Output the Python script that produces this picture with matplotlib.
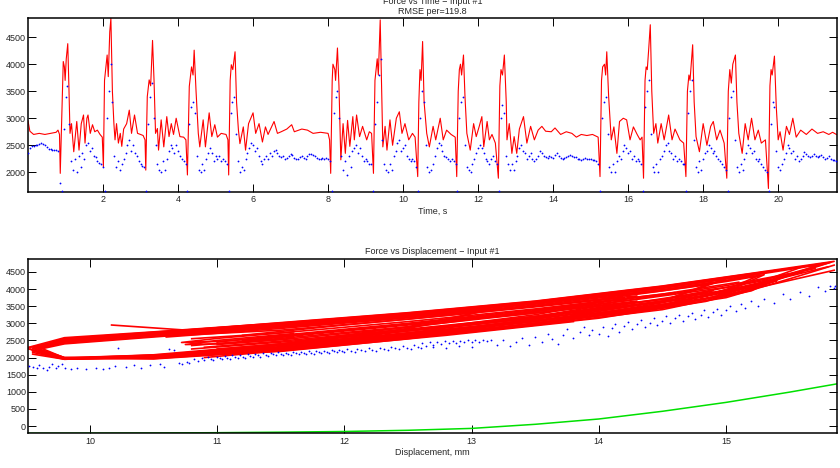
import numpy as np
import matplotlib
matplotlib.use("Agg")
import matplotlib.pyplot as plt

plt.rcParams['font.family'] = ['Liberation Sans', 'DejaVu Sans']

# ---------------- Top panel data: Force vs Time ----------------
# model force (red line), (time s, force N)
model_force_pts = [
    (0.00, 2950), (0.05, 2760), (0.15, 2700), (0.30, 2720), (0.45, 2700), (0.60, 2720),
    (0.75, 2740), (0.80, 2780), (0.84, 2700), (0.86, 1980), (0.91, 3300), (0.94, 4050),
    (0.97, 3950), (0.99, 3700), (1.02, 4100), (1.06, 4380), (1.09, 3600), (1.12, 2720),
    (1.16, 2900), (1.22, 2380), (1.30, 2940), (1.36, 2410), (1.42, 2900), (1.48, 3060),
    (1.52, 2540), (1.57, 3000), (1.60, 3060), (1.66, 2720), (1.72, 2880), (1.78, 2750),
    (1.85, 2780), (1.92, 2700), (1.98, 2650), (2.01, 2100), (2.04, 3700), (2.08, 3960),
    (2.11, 4170), (2.14, 3770), (2.18, 4600), (2.21, 4850), (2.25, 3500), (2.29, 2900),
    (2.32, 2600), (2.36, 2900), (2.41, 2540), (2.46, 2720), (2.50, 2480), (2.55, 2800),
    (2.63, 2900), (2.70, 3150), (2.76, 2720), (2.84, 3060), (2.92, 2720), (3.00, 2700),
    (3.07, 2680), (3.12, 2600), (3.14, 2040), (3.18, 3400), (3.23, 3710), (3.27, 3600),
    (3.32, 4440), (3.36, 3700), (3.40, 2720), (3.45, 2810), (3.48, 2410), (3.55, 2970),
    (3.62, 2470), (3.70, 3030), (3.76, 2660), (3.82, 2900), (3.88, 2700), (3.95, 3000),
    (4.05, 2660), (4.15, 2650), (4.21, 2600), (4.25, 1950), (4.30, 3590), (4.36, 3950),
    (4.40, 3800), (4.43, 4260), (4.48, 3500), (4.54, 2720), (4.58, 2470), (4.67, 2970),
    (4.73, 2470), (4.83, 3100), (4.90, 2660), (4.98, 2880), (5.05, 2650), (5.15, 2720),
    (5.28, 2700), (5.33, 2600), (5.35, 1950), (5.39, 3700), (5.42, 3990), (5.46, 3900),
    (5.52, 4230), (5.56, 3300), (5.61, 2780), (5.65, 2530), (5.74, 2840), (5.80, 2410),
    (5.88, 2900), (6.00, 3100), (6.07, 2720), (6.16, 2900), (6.25, 2560), (6.33, 2840),
    (6.40, 2700), (6.56, 2940), (6.65, 2720), (6.75, 2750), (6.90, 2800), (7.03, 2880),
    (7.10, 2750), (7.30, 2800), (7.45, 2780), (7.60, 2720), (7.80, 2740), (8.00, 2720),
    (8.04, 2600), (8.07, 1980), (8.11, 3700), (8.13, 4000), (8.18, 3900), (8.20, 3700),
    (8.25, 4300), (8.29, 3600), (8.34, 2230), (8.40, 2900), (8.46, 2350), (8.52, 2960),
    (8.58, 2480), (8.66, 3030), (8.70, 2600), (8.76, 3060), (8.84, 2660), (8.92, 2850),
    (9.03, 2600), (9.10, 2750), (9.16, 2720), (9.21, 1980), (9.25, 3700), (9.28, 3900),
    (9.31, 4100), (9.34, 3800), (9.39, 4820), (9.43, 3500), (9.46, 2470), (9.52, 2850),
    (9.57, 2410), (9.65, 2970), (9.72, 2500), (9.82, 3000), (9.90, 3120), (9.97, 2720),
    (10.05, 2900), (10.15, 2600), (10.25, 2720), (10.32, 2650), (10.39, 1920), (10.42, 3300),
    (10.45, 3900), (10.48, 3700), (10.52, 4420), (10.56, 3300), (10.63, 2720), (10.70, 2470),
    (10.80, 2850), (10.87, 2600), (10.99, 3000), (11.07, 2600), (11.16, 2780), (11.28, 2700),
    (11.39, 2650), (11.43, 1920), (11.47, 3500), (11.50, 3900), (11.53, 4000), (11.56, 3800),
    (11.61, 4170), (11.65, 3400), (11.70, 2720), (11.79, 2410), (11.88, 2900), (11.95, 2660),
    (12.03, 2850), (12.10, 3030), (12.15, 2470), (12.24, 2940), (12.30, 2600), (12.37, 2700),
    (12.46, 2540), (12.54, 1890), (12.58, 3600), (12.61, 3900), (12.65, 3800), (12.70, 4170),
    (12.75, 3300), (12.77, 2600), (12.83, 2900), (12.90, 2350), (12.96, 2660), (13.03, 2350),
    (13.10, 2800), (13.21, 3030), (13.30, 2540), (13.40, 2850), (13.50, 2600), (13.60, 2780),
    (13.70, 2850), (13.80, 2760), (13.95, 2750), (14.05, 2820), (14.20, 2700), (14.35, 2750),
    (14.50, 2720), (14.62, 2650), (14.75, 2700), (14.90, 2680), (15.05, 2700), (15.20, 2650),
    (15.25, 1920), (15.29, 3700), (15.32, 3950), (15.37, 4000), (15.40, 3800), (15.43, 4230),
    (15.48, 3400), (15.55, 2600), (15.62, 2840), (15.70, 2350), (15.77, 2940), (15.87, 3000),
    (15.96, 2970), (16.05, 2600), (16.14, 2840), (16.24, 2700), (16.32, 2600), (16.37, 2650),
    (16.41, 1890), (16.45, 3700), (16.48, 3950), (16.51, 3900), (16.55, 4300), (16.59, 4730),
    (16.63, 3500), (16.68, 2720), (16.74, 2900), (16.79, 2540), (16.88, 2900), (16.96, 2600),
    (17.08, 3060), (17.17, 2600), (17.25, 2800), (17.38, 2600), (17.48, 2540), (17.54, 1920),
    (17.58, 3500), (17.62, 3800), (17.65, 3700), (17.72, 4360), (17.76, 3300), (17.81, 2660),
    (17.90, 2380), (18.00, 2900), (18.10, 2500), (18.20, 2850), (18.27, 2940), (18.36, 2600),
    (18.45, 2780), (18.56, 2540), (18.63, 1890), (18.67, 3500), (18.71, 3900), (18.75, 3650),
    (18.79, 4000), (18.86, 4170), (18.90, 3300), (18.95, 2720), (19.04, 2350), (19.12, 2900),
    (19.20, 2600), (19.29, 3000), (19.38, 2600), (19.47, 2780), (19.55, 2540), (19.66, 2600),
    (19.74, 1700), (19.78, 3600), (19.81, 3900), (19.84, 3800), (19.90, 4150), (19.95, 3200),
    (20.00, 2600), (20.05, 2750), (20.13, 2410), (20.22, 2850), (20.30, 2700), (20.39, 3000),
    (20.48, 2650), (20.60, 2780), (20.75, 2700), (20.90, 2800), (21.05, 2720), (21.20, 2750),
    (21.35, 2700), (21.45, 2740), (21.55, 2700),
]

# measured force (blue dots), one value every 0.05 s, one row per second
sample_step = 0.05
measured_force = [
    2350, 2450, 2480, 2490, 2500, 2510, 2530, 2540, 2530, 2500, 2470, 2440, 2430, 2420, 2410, 2420, 2400, 1800, 1650, 2800,
    3400, 3600, 2900, 2200, 2050, 2250, 2000, 2300, 2100, 2350, 2250, 2500, 2550, 2400, 2450, 2300, 2280, 2200, 2170, 2150,
    2100, 1650, 3000, 3500, 4000, 3300, 2300, 2100, 2200, 2050, 2150, 2250, 2350, 2500, 2600, 2400, 2500, 2350, 2300, 2200,
    2150, 2120, 2100, 1650, 2900, 3400, 3650, 3000, 2500, 2150, 2050, 2000, 2200, 2050, 2250, 2400, 2500, 2450, 2350, 2500,
    2400, 2300, 2250, 2200, 2150, 1650, 2900, 3200, 3300, 3100, 2300, 2050, 2000, 2150, 2050, 2250, 2350, 2450, 2350, 2200,
    2300, 2250, 2300, 2200, 2250, 2200, 2150, 1650, 3100, 3300, 3400, 2700, 2200, 2000, 2100, 2050, 2250, 2350, 2450, 2550,
    2500, 2400, 2450, 2300, 2200, 2150, 2250, 2300, 2250, 2350, 2300, 2400, 2420, 2350, 2300, 2280, 2300, 2250, 2270, 2300,
    2340, 2320, 2260, 2240, 2250, 2280, 2300, 2260, 2250, 2300, 2340, 2330, 2320, 2300, 2270, 2250, 2240, 2260, 2250, 2270,
    2250, 2200, 1650, 3100, 3400, 3500, 3000, 2300, 2050, 2200, 1950, 2300, 2100, 2400, 2450, 2500, 2350, 2450, 2300, 2200,
    2250, 2200, 2150, 2150, 1650, 2900, 3300, 3800, 4100, 2600, 2150, 2050, 2000, 2150, 2050, 2300, 2400, 2550, 2600, 2400,
    2450, 2500, 2300, 2250, 2200, 2250, 2200, 2100, 1650, 3000, 3500, 3300, 2500, 2100, 2000, 2050, 2150, 2300, 2450, 2550,
    2500, 2400, 2300, 2280, 2250, 2200, 2250, 2200, 2150, 1650, 3000, 3300, 3400, 2500, 2100, 2050, 2000, 2150, 2250, 2350,
    2450, 2500, 2450, 2350, 2250, 2200, 2150, 2250, 2300, 2200, 2150, 1650, 3000, 3250, 3100, 2300, 2150, 2050, 2150, 2050,
    2200, 2300, 2450, 2500, 2400, 2350, 2250, 2300, 2350, 2250, 2200, 2250, 2300, 2400, 2350, 2300, 2280, 2260, 2300, 2280,
    2270, 2320, 2350, 2300, 2260, 2250, 2260, 2280, 2300, 2320, 2310, 2290, 2280, 2250, 2240, 2230, 2250, 2260, 2240, 2250,
    2240, 2230, 2220, 2200, 2150, 1650, 3000, 3300, 3400, 2700, 2100, 2000, 2150, 2000, 2200, 2300, 2250, 2400, 2500, 2450,
    2350, 2400, 2250, 2300, 2200, 2250, 2200, 2150, 1650, 3200, 3500, 3700, 2700, 2100, 2000, 2150, 2000, 2250, 2300, 2400,
    2500, 2550, 2400, 2350, 2250, 2300, 2200, 2250, 2200, 2150, 2150, 1650, 3100, 3500, 3700, 2600, 2100, 2000, 2200, 2050,
    2250, 2350, 2400, 2500, 2450, 2350, 2400, 2300, 2250, 2200, 2150, 2100, 2050, 1650, 3000, 3400, 3500, 2600, 2100, 2000,
    2150, 2050, 2250, 2350, 2500, 2450, 2350, 2400, 2250, 2200, 2250, 2150, 2100, 2050, 2000, 1650, 2900, 3300, 3200, 2400,
    2100, 2050, 2150, 2250, 2350, 2500, 2450, 2350, 2400, 2250, 2300, 2200, 2250, 2300, 2380, 2340, 2300, 2280, 2300, 2330,
    2300, 2280, 2300, 2320, 2280, 2250, 2270, 2300, 2250, 2230, 2220, 2200,
]

# ---------------- Bottom panel data: Force vs Displacement ----------------
# model hysteresis loops (displacement mm, force N)
model_loops = [
    [(10.17, 2950), (10.76, 2800), (11.5, 3020), (12.5, 3310), (13.5, 3650), (14.5, 4090), (15.2, 4460),
     (15.85, 4810), (15.5, 4450), (15.2, 4100), (14.5, 3550), (13.5, 3050), (12.5, 2680), (11.5, 2350),
     (10.5, 2020), (9.8, 1950), (9.55, 2150)],
    [(9.55, 2280), (9.8, 2560), (10.5, 2720), (11.5, 2990), (12.5, 3280), (13.5, 3620), (14.5, 4060),
     (15.2, 4430), (15.82, 4780), (15.5, 4400), (15.2, 4000), (14.5, 3450), (13.5, 2980), (12.5, 2640),
     (11.5, 2300), (10.5, 1990), (9.8, 1960), (9.55, 2200)],
    [(9.53, 2300), (9.8, 2500), (10.5, 2680), (11.5, 2960), (12.5, 3260), (13.5, 3600), (14.5, 4030),
     (15.2, 4400), (15.75, 4720), (15.4, 4300), (15.2, 3950), (14.5, 3400), (13.5, 2950), (12.5, 2600),
     (11.5, 2250), (10.5, 1980), (9.8, 1970), (9.53, 2250)],
    [(9.6, 2250), (9.8, 2450), (10.5, 2650), (11.5, 2930), (12.5, 3230), (13.5, 3560), (14.5, 3980),
     (15.0, 4250), (15.3, 4420), (15.1, 4080), (14.5, 3500), (13.5, 3000), (12.5, 2620), (11.5, 2220),
     (10.5, 1970), (9.8, 1980), (9.6, 2200)],
    [(9.58, 2300), (9.8, 2420), (10.5, 2620), (11.5, 2900), (12.5, 3200), (13.5, 3530), (14.5, 3950),
     (15.0, 4220), (15.25, 4380), (15.0, 3980), (14.5, 3480), (13.5, 2980), (12.5, 2600), (11.5, 2200),
     (10.5, 1960), (9.8, 2000), (9.58, 2250)],
    [(9.6, 2350), (9.8, 2480), (10.5, 2700), (11.5, 2970), (12.5, 3250), (13.5, 3580), (14.5, 3980),
     (14.9, 4200), (14.5, 3650), (13.5, 3050), (12.5, 2640), (11.5, 2250), (10.5, 2000), (9.8, 1990),
     (9.6, 2300)],
    [(9.55, 2200), (9.8, 2400), (10.5, 2600), (11.5, 2880), (12.5, 3180), (13.5, 3500), (14.0, 3700),
     (14.3, 3800), (14.0, 3500), (13.5, 3200), (12.5, 2720), (11.5, 2280), (10.5, 2030), (9.8, 1950),
     (9.55, 2100)],
    [(9.6, 2300), (9.8, 2550), (10.5, 2740), (11.5, 3000), (12.5, 3280), (13.5, 3610), (14.2, 3880),
     (13.8, 3450), (13.5, 3250), (12.5, 2780), (11.5, 2320), (10.5, 2050), (9.8, 1970), (9.6, 2200)],
    [(9.55, 2250), (9.8, 2500), (10.5, 2700), (11.5, 2960), (12.5, 3230), (13.15, 3400), (12.7, 3050),
     (12.5, 2900), (11.5, 2400), (10.5, 2080), (9.8, 1980), (9.55, 2200)],
    [(9.6, 2280), (9.8, 2460), (10.5, 2660), (11.5, 2920), (12.5, 3200), (13.1, 3380), (12.7, 3000),
     (12.5, 2850), (11.5, 2380), (10.5, 2060), (9.8, 2000), (9.6, 2250)],
    [(9.52, 2300), (9.8, 2580), (10.5, 2750), (11.5, 3010), (12.5, 3300), (13.5, 3640), (14.5, 4080),
     (15.2, 4450), (15.6, 4650), (15.3, 4250), (14.5, 3700), (13.5, 3200), (12.5, 2800), (11.5, 2380),
     (10.5, 2040), (9.8, 1960), (9.52, 2250)],
    [(9.57, 2230), (9.8, 2520), (10.5, 2710), (11.5, 2980), (12.5, 3270), (13.5, 3600), (14.5, 4020),
     (15.0, 4300), (14.7, 3900), (14.5, 3650), (13.5, 3120), (12.5, 2680), (11.5, 2270), (10.5, 1990),
     (9.8, 1960), (9.57, 2180)],
    [(11.6, 2750), (11.0, 2560), (10.72, 2440), (11.0, 2470), (11.6, 2620)],
    [(11.6, 2700), (11.0, 2500), (10.75, 2380), (11.0, 2400), (11.6, 2560)],
    [(10.8, 2350), (11.5, 2560), (12.5, 2900), (13.5, 3300), (14.3, 3650), (13.5, 3150), (12.5, 2780),
     (11.5, 2450), (10.8, 2250)],
    [(11.0, 2450), (11.5, 2650), (12.5, 3000), (13.5, 3400), (14.6, 3900), (13.5, 3350), (12.5, 2880),
     (11.5, 2520), (11.0, 2380)],
    [(10.9, 2150), (11.5, 2400), (12.5, 2800), (13.5, 3150), (14.9, 3950), (14.5, 3600), (13.5, 3000),
     (12.5, 2550), (11.5, 2180), (10.9, 2080)],
    [(11.2, 2500), (12.0, 2800), (13.0, 3150), (14.0, 3550), (15.0, 4100), (15.5, 4450), (15.2, 4050),
     (14.5, 3700), (13.5, 3300), (12.5, 2950), (11.5, 2600), (11.2, 2500)],
    [(11.5, 2350), (12.5, 2700), (13.5, 3080), (14.5, 3500), (15.1, 3900), (15.4, 4250), (15.0, 3800),
     (14.0, 3300), (13.0, 2850), (12.0, 2500), (11.5, 2350)],
    [(12.0, 2600), (13.0, 2950), (14.0, 3400), (14.8, 3750), (15.3, 4150), (14.8, 3680), (14.0, 3250),
     (13.0, 2750), (12.0, 2450)],
    [(10.0, 2000), (11.0, 2150), (12.0, 2400), (13.0, 2750), (14.0, 3150), (14.84, 3640), (15.2, 4000),
     (15.85, 4550)],
    [(11.3, 2550), (12.2, 2870), (13.2, 3250), (14.2, 3650), (15.0, 4050), (15.7, 4600)],
    [(11.8, 2450), (12.8, 2800), (13.8, 3200), (14.6, 3600), (15.3, 4200), (15.8, 4650)],
    [(10.9, 2300), (11.5, 2480), (12.5, 2830), (13.5, 3200), (14.5, 3650), (15.2, 4100), (15.6, 4500)],
    [(10.8, 2550), (11.5, 2720), (12.5, 3050), (13.5, 3420), (14.5, 3850), (15.1, 4200)],
    [(10.7, 2650), (11.5, 2800), (12.5, 3120), (13.5, 3480), (14.2, 3750)],
    [(10.6, 2600), (11.5, 2850), (12.5, 3160), (13.2, 3400)],
    [(11.0, 2250), (12.0, 2550), (13.0, 2900), (14.0, 3350), (14.8, 3800), (15.4, 4300)],
    [(12.2, 2500), (13.2, 2880), (14.2, 3300), (15.0, 3750), (15.5, 4300), (15.85, 4700)],
    [(10.9, 2000), (11.8, 2300), (12.8, 2650), (13.8, 3050)],
    [(11.2, 2650), (12.0, 2950), (13.0, 3300), (14.0, 3700), (14.8, 4100), (15.4, 4550)],
]

# measured force vs displacement (blue dots)
measured_fd_pts = [
    (9.52, 1760), (9.55, 1720), (9.58, 1700), (9.6, 1780), (9.63, 1690), (9.66, 1650), (9.68, 1720),
    (9.7, 1800), (9.73, 1680), (9.75, 1760), (9.78, 1820), (9.8, 1700), (9.85, 1660), (9.9, 1680),
    (9.97, 1670), (10.05, 1690), (10.1, 1660), (10.15, 1700), (10.2, 1740), (10.22, 2270), (10.28, 1720),
    (10.35, 1780), (10.4, 1700), (10.47, 1770), (10.55, 1800), (10.58, 1730), (10.62, 2250), (10.66, 2210),
    (10.7, 1850), (10.72, 1800), (10.76, 1880), (10.78, 1830),
    (10.82, 1960), (10.85, 1900), (10.88, 1990), (10.9, 1940), (10.93, 2010), (10.95, 1960), (10.97, 1920),
    (11.0, 2030), (11.02, 1980), (11.04, 1950), (11.06, 2050), (11.08, 2000), (11.1, 1970), (11.12, 2060),
    (11.14, 2020), (11.16, 1990), (11.18, 2080), (11.2, 2030), (11.22, 2000), (11.24, 2100), (11.26, 2050),
    (11.28, 2010), (11.3, 2090), (11.32, 2060), (11.34, 2030), (11.36, 2120), (11.38, 2070), (11.4, 2040),
    (11.42, 2130), (11.44, 2090), (11.46, 2060), (11.48, 2150), (11.5, 2100), (11.52, 2070), (11.54, 2140),
    (11.56, 2110), (11.58, 2080), (11.6, 2160), (11.62, 2120), (11.64, 2090), (11.66, 2170), (11.68, 2130),
    (11.7, 2100), (11.72, 2190), (11.74, 2140), (11.76, 2110), (11.78, 2180), (11.8, 2150), (11.82, 2120),
    (11.84, 2200), (11.86, 2160), (11.88, 2130), (11.9, 2220), (11.92, 2180), (11.94, 2150), (11.96, 2230),
    (11.98, 2190), (12.0, 2160), (12.02, 2240), (12.05, 2200), (12.08, 2170), (12.1, 2260), (12.13, 2210),
    (12.16, 2190), (12.19, 2270), (12.22, 2230), (12.25, 2200), (12.28, 2290), (12.31, 2250), (12.34, 2220),
    (12.37, 2310), (12.4, 2270), (12.43, 2240), (12.46, 2330), (12.49, 2290), (12.52, 2260), (12.55, 2380),
    (12.58, 2310), (12.61, 2420), (12.64, 2350), (12.67, 2450), (12.7, 2380), (12.73, 2460), (12.76, 2400),
    (12.79, 2470), (12.82, 2420), (12.85, 2480), (12.88, 2430), (12.91, 2490), (12.94, 2440), (12.97, 2500),
    (13.0, 2450), (13.03, 2510), (13.06, 2460), (13.09, 2500), (13.12, 2470), (13.15, 2520), (12.7, 2300),
    (12.8, 2280), (12.9, 2330), (13.0, 2310), (12.6, 2270),
    (13.2, 2380), (13.25, 2520), (13.3, 2330), (13.35, 2460), (13.4, 2560), (13.45, 2380), (13.5, 2600),
    (13.55, 2450), (13.6, 2700), (13.63, 2540), (13.68, 2400), (13.72, 2650), (13.75, 2820), (13.8, 2580),
    (13.85, 2750), (13.88, 2900), (13.92, 2650), (13.95, 2800), (14.0, 2700), (14.03, 2900), (14.07, 2620),
    (14.1, 2850), (14.13, 2980), (14.16, 2750), (14.2, 2920), (14.23, 3050), (14.26, 2830), (14.3, 2970),
    (14.33, 3100), (14.36, 2880), (14.4, 3020), (14.43, 3150), (14.46, 2950), (14.5, 3080), (14.53, 3200),
    (14.56, 3000), (14.6, 3150), (14.63, 3250), (14.66, 3080), (14.7, 3200), (14.73, 3300), (14.76, 3120),
    (14.8, 3250), (14.83, 3380), (14.86, 3180), (14.9, 3320), (14.93, 3430), (14.96, 3250), (15.0, 3400),
    (15.03, 3500), (15.08, 3350), (15.12, 3560), (15.15, 3450), (15.2, 3650), (15.25, 3500), (15.3, 3720),
    (15.38, 3600), (15.45, 3850), (15.5, 3700), (15.58, 3920), (15.65, 3800), (15.72, 4050), (15.78, 3950),
    (15.82, 4100), (15.85, 4020), (15.86, 4080),
]

# static stiffness curve (green)
static_disp = [9.51, 10.0, 10.5, 11.0, 11.5, 12.0, 12.5, 13.0, 13.5, 14.0, 14.5, 15.0, 15.5, 15.87]
static_force = [-213, -210, -205, -195, -180, -160, -125, -70, 50, 205, 430, 690, 990, 1230]

time_ticks = [2, 4, 6, 8, 10, 12, 14, 16, 18, 20]
force_ticks_top = [2000, 2500, 3000, 3500, 4000, 4500]
disp_ticks = [10, 11, 12, 13, 14, 15]
force_ticks_bottom = [0, 500, 1000, 1500, 2000, 2500, 3000, 3500, 4000, 4500]

# ---------------- Figure ----------------
W, H = 840, 468
fig = plt.figure(figsize=(W / 100, H / 100), dpi=100)
ax1 = fig.add_axes([28 / W, 1 - 192 / H, (836.7 - 28) / W, (192 - 18) / H])
ax2 = fig.add_axes([28 / W, 1 - 433.3 / H, (836.7 - 28) / W, (433.3 - 259.3) / H])

text_color = '#262626'
fs = 6.5

mt, mf = np.array(model_force_pts).T
ax1.plot(mt, mf, color='#ff0000', lw=0.8, zorder=2)
st = np.arange(len(measured_force)) * sample_step
ax1.plot(st, measured_force, linestyle='none', marker='.', ms=2.6, mew=0,
         color='#0000ff', zorder=3)
ax1.set_xlim(0, 21.56)
ax1.set_ylim(1635, 4855)
ax1.set_xticks(time_ticks)
ax1.set_yticks(force_ticks_top)
ax1.set_title("Force vs Time \u2212 Input #1\nRMSE per=119.8", fontsize=fs,
              color=text_color, pad=3, linespacing=1.05)
ax1.set_xlabel("Time, s", fontsize=fs, color=text_color, labelpad=1.5)
ax1.set_ylabel("Force, N", fontsize=fs, color=text_color)
ax1.yaxis.set_label_coords(-0.037, 0.5)

for loop in model_loops:
    d, f = np.array(loop).T
    ax2.plot(d, f, color='#ff0000', lw=1.2, zorder=2)
bd, bf = np.array(measured_fd_pts).T
ax2.plot(bd, bf, linestyle='none', marker='.', ms=2.6, mew=0, color='#0000ff', zorder=3)
ax2.plot(static_disp, static_force, color='#00e000', lw=1.1, zorder=2)
ax2.set_xlim(9.513, 15.87)
ax2.set_ylim(-213, 4870)
ax2.set_xticks(disp_ticks)
ax2.set_yticks(force_ticks_bottom)
ax2.set_title("Force vs Displacement \u2212 Input #1", fontsize=fs, color=text_color, pad=4)
ax2.set_xlabel("Displacement, mm", fontsize=fs, color=text_color, labelpad=1.5)
ax2.set_ylabel("Force, N", fontsize=fs, color=text_color)
ax2.yaxis.set_label_coords(-0.037, 0.5)

for ax in (ax1, ax2):
    ax.tick_params(direction='in', length=5.5, width=0.7, top=True, right=True,
                   labelsize=fs, labelcolor=text_color, pad=2.5)
    ax.tick_params(axis='y', pad=1.5)
    for s in ax.spines.values():
        s.set_linewidth(1.1)
        s.set_color('black')

fig.savefig("out.png", dpi=100)
